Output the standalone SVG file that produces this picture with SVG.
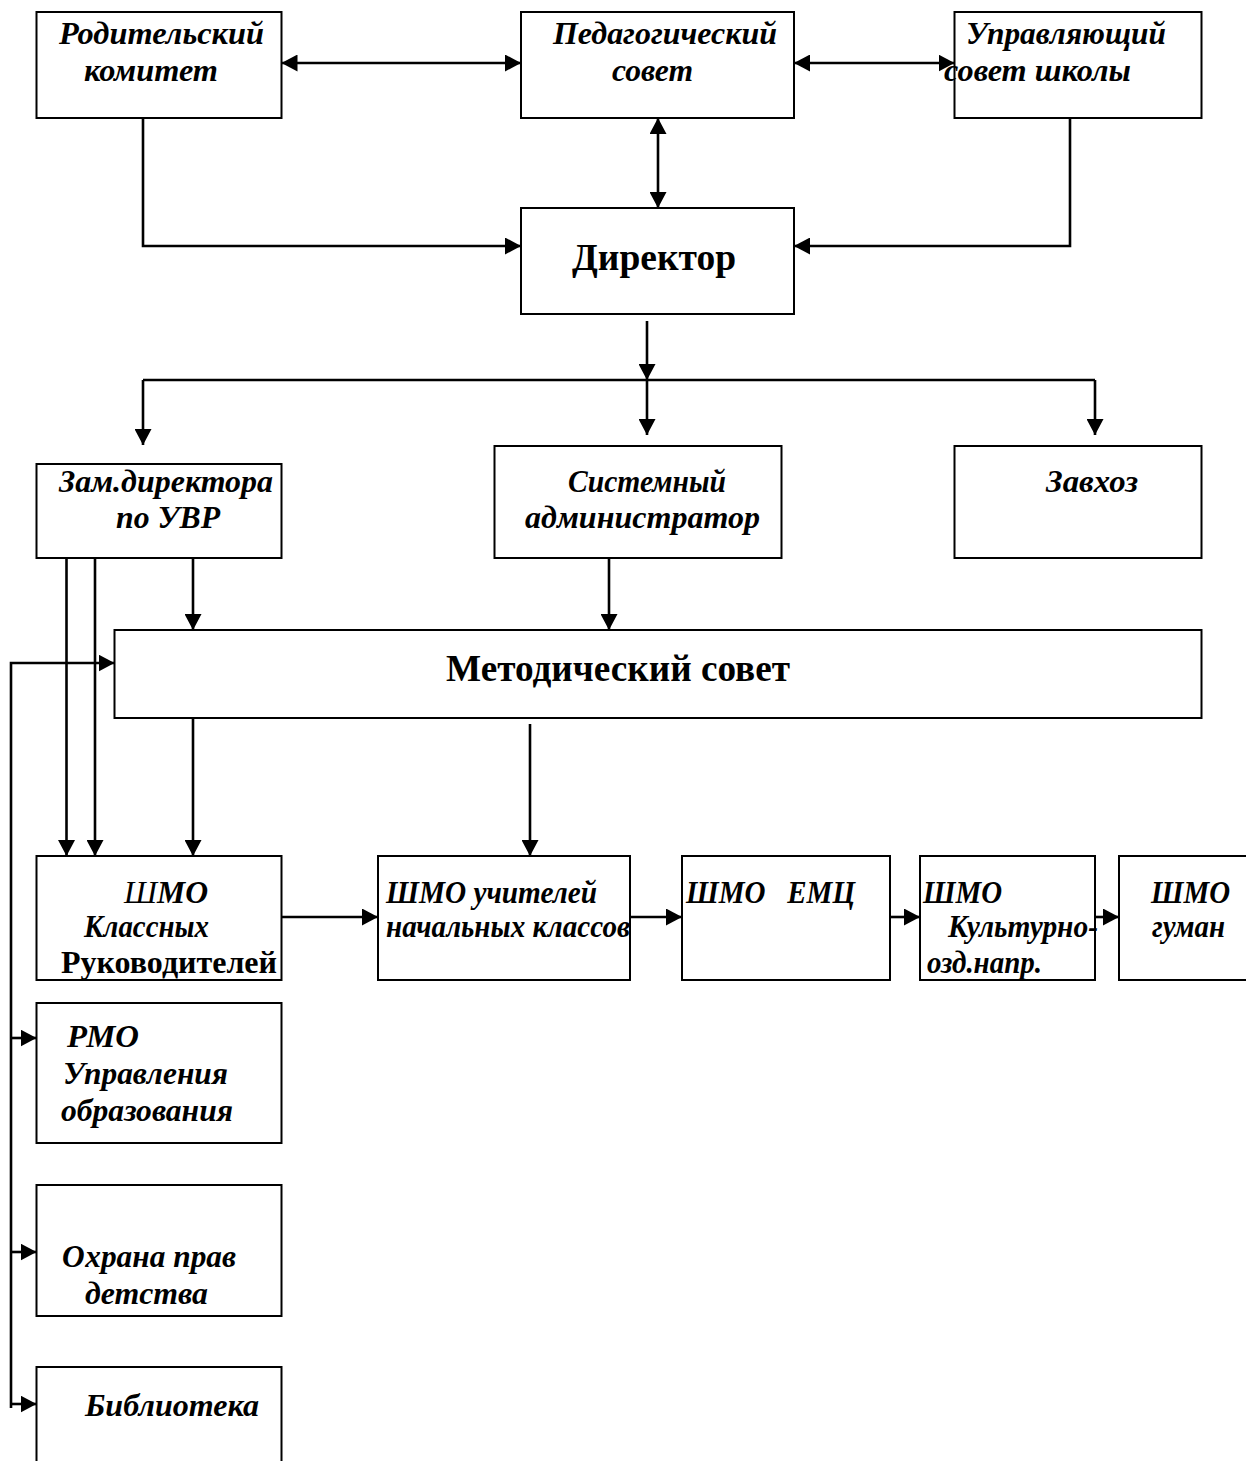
<svg xmlns="http://www.w3.org/2000/svg" width="1246" height="1461" viewBox="0 0 1246 1461">
<style>
.box{fill:#fff;stroke:#000;stroke-width:2}
.c{fill:none;stroke:#000;stroke-width:2.6}
text{font-family:"Liberation Serif","Times New Roman",serif;fill:#000}
.t{font-size:32px;font-weight:bold;font-style:italic}
.u{font-size:32px;font-weight:bold}
.big{font-size:37px;font-weight:bold}
</style>
<defs>
<marker id="ah" markerUnits="userSpaceOnUse" markerWidth="17" markerHeight="17" refX="16" refY="8.5" orient="auto-start-reverse" viewBox="0 0 17 17">
<path d="M0,0 L16,8.5 L0,17 z" fill="#000"/>
</marker>
</defs>
<rect width="1246" height="1461" fill="#fff"/>
<g id="connectors">
<path class="c" d="M281.5,63 H521" marker-start="url(#ah)" marker-end="url(#ah)"/>
<path class="c" d="M794,63 H954.5" marker-start="url(#ah)" marker-end="url(#ah)"/>
<path class="c" d="M658,118 V208" marker-start="url(#ah)" marker-end="url(#ah)"/>
<path class="c" d="M143,118 V246 H521" marker-end="url(#ah)"/>
<path class="c" d="M1070,118 V246 H794" marker-end="url(#ah)"/>
<path class="c" d="M647,321 V380" marker-end="url(#ah)"/>
<path class="c" d="M143,380 H1095"/>
<path class="c" d="M143,380 V445" marker-end="url(#ah)"/>
<path class="c" d="M647,380 V435" marker-end="url(#ah)"/>
<path class="c" d="M1095,380 V435" marker-end="url(#ah)"/>
<path class="c" d="M193,558 V630" marker-end="url(#ah)"/>
<path class="c" d="M609,558 V630" marker-end="url(#ah)"/>
<path class="c" d="M66.5,558 V856" marker-end="url(#ah)"/>
<path class="c" d="M95,558 V856" marker-end="url(#ah)"/>
<path class="c" d="M193,718 V856" marker-end="url(#ah)"/>
<path class="c" d="M530,724 V856" marker-end="url(#ah)"/>
<path class="c" d="M281.5,917 H378" marker-end="url(#ah)"/>
<path class="c" d="M630,917 H682" marker-end="url(#ah)"/>
<path class="c" d="M890,917 H920" marker-end="url(#ah)"/>
<path class="c" d="M1095,917 H1119" marker-end="url(#ah)"/>
<path class="c" d="M11,1408 V663 H114.5" marker-end="url(#ah)"/>
<path class="c" d="M11,1038 H36.5" marker-end="url(#ah)"/>
<path class="c" d="M11,1252 H36.5" marker-end="url(#ah)"/>
<path class="c" d="M11,1404 H36.5" marker-end="url(#ah)"/>
</g>
<g id="rodit">
<rect class="box" x="36.5" y="12" width="245" height="106"/>
<text class="t" x="59" y="44" textLength="205" lengthAdjust="spacingAndGlyphs">Родительский</text>
<text class="t" x="84" y="81" textLength="134" lengthAdjust="spacingAndGlyphs">комитет</text>
</g>
<g id="ped">
<rect class="box" x="521" y="12" width="273" height="106"/>
<text class="t" x="553" y="44" textLength="224" lengthAdjust="spacingAndGlyphs">Педагогический</text>
<text class="t" x="612" y="81" textLength="81" lengthAdjust="spacingAndGlyphs">совет</text>
</g>
<g id="upr">
<rect class="box" x="954.5" y="12" width="247" height="106"/>
<text class="t" x="966" y="44" textLength="200" lengthAdjust="spacingAndGlyphs">Управляющий</text>
<text class="t" x="944" y="81" textLength="187" lengthAdjust="spacingAndGlyphs">совет школы</text>
</g>
<g id="dir">
<rect class="box" x="521" y="208" width="273" height="106"/>
<text class="big" x="572" y="270" textLength="164" lengthAdjust="spacingAndGlyphs">Директор</text>
</g>
<g id="zam">
<rect class="box" x="36.5" y="464" width="245" height="94"/>
<text class="t" x="59" y="492" textLength="214" lengthAdjust="spacingAndGlyphs">Зам.директора</text>
<text class="t" x="116" y="528" textLength="104" lengthAdjust="spacingAndGlyphs">по УВР</text>
</g>
<g id="sys">
<rect class="box" x="494.5" y="446" width="287" height="112"/>
<text class="t" x="568" y="492" textLength="158" lengthAdjust="spacingAndGlyphs">Системный</text>
<text class="t" x="525" y="528" textLength="235" lengthAdjust="spacingAndGlyphs">администратор</text>
</g>
<g id="zavhoz">
<rect class="box" x="954.5" y="446" width="247" height="112"/>
<text class="t" x="1046" y="492" textLength="92" lengthAdjust="spacingAndGlyphs">Завхоз</text>
</g>
<g id="metod">
<rect class="box" x="114.5" y="630" width="1087" height="88"/>
<text class="big" x="446" y="681" textLength="344" lengthAdjust="spacingAndGlyphs">Методический совет</text>
</g>
<g id="shmo_kl">
<rect class="box" x="36.5" y="856" width="245" height="124"/>
<text class="t" x="124" y="903" textLength="84" lengthAdjust="spacingAndGlyphs"><tspan font-weight="normal">Ш</tspan>МО</text>
<text class="t" x="84" y="937" textLength="125" lengthAdjust="spacingAndGlyphs">Классных</text>
<text class="u" x="61" y="973" textLength="216" lengthAdjust="spacingAndGlyphs">Руководителей</text>
</g>
<g id="shmo_uch">
<rect class="box" x="378" y="856" width="252" height="124"/>
<text class="t" x="386" y="903" textLength="211" lengthAdjust="spacingAndGlyphs">ШМО учителей</text>
<text class="t" x="386" y="937" textLength="244" lengthAdjust="spacingAndGlyphs">начальных классов</text>
</g>
<g id="shmo_emc">
<rect class="box" x="682" y="856" width="208" height="124"/>
<text class="t" x="686" y="903" xml:space="preserve" textLength="169" lengthAdjust="spacingAndGlyphs">ШМО   ЕМЦ</text>
</g>
<g id="shmo_kult">
<rect class="box" x="920" y="856" width="175" height="124"/>
<text class="t" x="923" y="903" textLength="79" lengthAdjust="spacingAndGlyphs">ШМО</text>
<text class="t" x="948" y="937" textLength="150" lengthAdjust="spacingAndGlyphs">Культурно-</text>
<text class="t" x="927" y="973" textLength="115" lengthAdjust="spacingAndGlyphs">озд.напр.</text>
</g>
<g id="shmo_guman">
<rect class="box" x="1119" y="856" width="140" height="124"/>
<text class="t" x="1151" y="903" textLength="79" lengthAdjust="spacingAndGlyphs">ШМО</text>
<text class="t" x="1152" y="937" textLength="73" lengthAdjust="spacingAndGlyphs">гуман</text>
</g>
<g id="rmo">
<rect class="box" x="36.5" y="1003" width="245" height="140"/>
<text class="t" x="67" y="1047" textLength="72" lengthAdjust="spacingAndGlyphs">РМО</text>
<text class="t" x="63" y="1084" textLength="165" lengthAdjust="spacingAndGlyphs">Управления</text>
<text class="t" x="61" y="1121" textLength="172" lengthAdjust="spacingAndGlyphs">образования</text>
</g>
<g id="ohrana">
<rect class="box" x="36.5" y="1185" width="245" height="131"/>
<text class="t" x="62" y="1267" textLength="174" lengthAdjust="spacingAndGlyphs">Охрана прав</text>
<text class="t" x="85" y="1304" textLength="123" lengthAdjust="spacingAndGlyphs">детства</text>
</g>
<g id="bibl">
<rect class="box" x="36.5" y="1367" width="245" height="110"/>
<text class="t" x="85" y="1416" textLength="174" lengthAdjust="spacingAndGlyphs">Библиотека</text>
</g>
</svg>
